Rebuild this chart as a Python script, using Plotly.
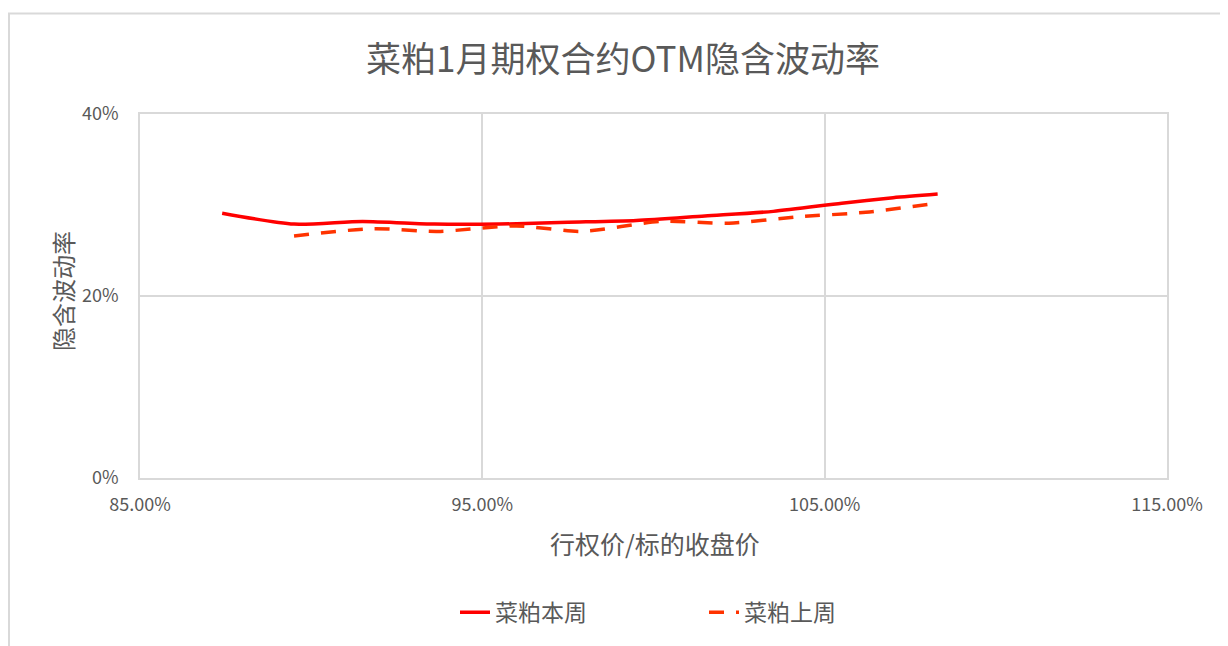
import plotly.graph_objects as go

# ---- data ----
strike_ratio = [87.4, 89.5, 91.5, 93.6, 95.5, 97.5, 99.5, 101.5, 103.5, 105.5, 107.0, 108.3]
iv_this_week = [29.1, 27.9, 28.2, 27.9, 27.9, 28.1, 28.3, 28.8, 29.3, 30.2, 30.8, 31.2]
strike_ratio_last = [89.5, 91.8, 93.7, 96.0, 97.9, 100.2, 102.2, 104.2, 106.2, 108.3]
iv_last_week = [26.6, 27.4, 27.1, 27.7, 27.1, 28.2, 28.0, 28.7, 29.2, 30.2]
series_names = ["菜粕本周", "菜粕上周"]
x_tickvals = [85, 95, 105, 115]
x_ticktext = ["85.00%", "95.00%", "105.00%", "115.00%"]
y_tickvals = [0, 20, 40]
y_ticktext = ["0%", "20%", "40%"]
title_text = "菜粕1月期权合约OTM隐含波动率"
x_title = "行权价/标的收盘价"
y_title = "隐含波动率"

FONT = "Noto Sans CJK SC"
GRAY = "#595959"
GRID = "#d9d9d9"

# page is offset by 8px body margin -> work in figure coords (page - 8)
W, H = 1220, 638
L, R, T, B = 132, 61, 106, 166
PW, PH = W - L - R, H - T - B


def px(xp):  # page x -> paper
    return (xp - 8 - L) / PW


def py(yp):  # page y -> paper
    return (H - B - (yp - 8)) / PH


fig = go.Figure()
fig.add_trace(go.Scatter(
    x=strike_ratio, y=iv_this_week, name=series_names[0], mode="lines",
    line=dict(color="#FF0000", width=3.5, shape="spline", smoothing=0.7),
))
fig.add_trace(go.Scatter(
    x=strike_ratio_last, y=iv_last_week, name=series_names[1], mode="lines",
    line=dict(color="#FF3300", width=3.5, shape="spline", smoothing=0.7, dash="15px,12px"),
))

fig.update_layout(
    width=W, height=H,
    margin=dict(l=L, r=R, t=T, b=B),
    paper_bgcolor="white", plot_bgcolor="white",
    font=dict(family=FONT, color=GRAY),
    title=dict(text=title_text, x=(623 - 8) / W, xref="container", xanchor="center",
               y=1 - (60 - 8) / H, yref="container", yanchor="middle",
               font=dict(size=35, color=GRAY, family=FONT)),
    showlegend=True,
    legend=dict(orientation="h", x=px(455), xanchor="left", y=py(615), yanchor="middle",
                font=dict(size=23, color=GRAY, family=FONT), entrywidth=204,
                bgcolor="rgba(0,0,0,0)"),
    xaxis=dict(range=[85, 115], tickvals=x_tickvals, ticktext=x_ticktext,
               showgrid=True, gridcolor=GRID, gridwidth=1.5,
               showline=True, linecolor=GRID, linewidth=1.5, mirror=True,
               zeroline=False, ticks="", ticklabelstandoff=10,
               tickfont=dict(size=18, color=GRAY, family=FONT)),
    yaxis=dict(range=[0, 40], tickvals=y_tickvals, ticktext=y_ticktext,
               showgrid=True, gridcolor=GRID, gridwidth=1.5,
               showline=True, linecolor=GRID, linewidth=1.5, mirror=True,
               zeroline=False, ticks="", ticklabelstandoff=16,
               tickfont=dict(size=18, color=GRAY, family=FONT)),
    annotations=[
        dict(text=x_title, xref="paper", yref="paper", x=px(655), y=py(545),
             xanchor="center", yanchor="middle", showarrow=False,
             font=dict(size=25, color=GRAY, family=FONT)),
        dict(text=y_title, xref="paper", yref="paper", x=px(62), y=py(292),
             xanchor="center", yanchor="middle", showarrow=False,
             textangle=-90, font=dict(size=24, color=GRAY, family=FONT)),
    ],
    shapes=[
        dict(type="rect", xref="paper", yref="paper",
             x0=px(9), x1=px(1250), y0=py(670), y1=py(13),
             line=dict(color=GRID, width=2), fillcolor="rgba(0,0,0,0)", layer="below"),
    ],
)

fig.write_html("out.html")
